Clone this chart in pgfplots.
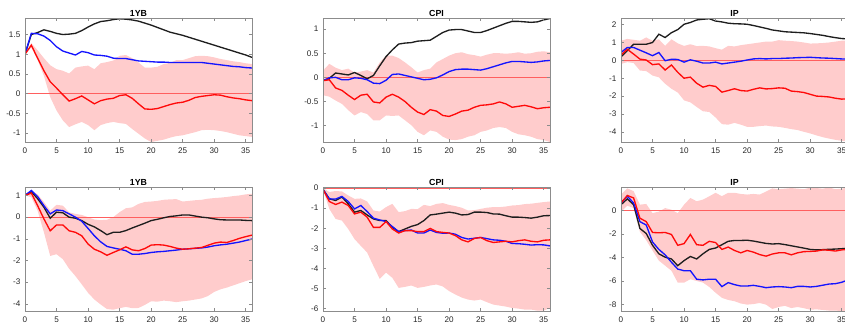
\documentclass[border=0pt]{standalone}
\usepackage{pgfplots}
\pgfplotsset{compat=1.18}
\usepackage{pgfplotstable}
\usepgfplotslibrary{fillbetween}
\usepackage{fontspec}
\setmainfont{Liberation Sans}
\definecolor{bandc}{RGB}{255,204,204}
\definecolor{zeroc}{RGB}{255,95,95}
\definecolor{blkc}{RGB}{30,30,30}
\definecolor{bluc}{RGB}{20,20,255}
\definecolor{redc}{RGB}{255,10,10}

\pgfplotstableread{
x lo hi k b r
0 1.00 1.00 1.00 1.00 1.00
1 1.17 1.28 1.50 1.53 1.23
2 0.85 1.10 1.55 1.52 0.90
3 0.45 0.90 1.62 1.46 0.58
4 -0.09 0.72 1.58 1.35 0.30
5 -0.43 0.62 1.53 1.19 0.14
6 -0.68 0.58 1.50 1.08 -0.03
7 -0.85 0.51 1.51 1.03 -0.19
8 -0.78 0.66 1.53 0.98 -0.13
9 -0.72 0.69 1.60 1.07 -0.06
10 -0.80 0.71 1.69 1.04 -0.16
11 -0.93 0.62 1.77 0.98 -0.26
12 -0.80 0.77 1.83 0.97 -0.18
13 -0.75 0.80 1.85 0.95 -0.14
14 -0.72 0.84 1.88 0.90 -0.12
15 -0.75 0.96 1.90 0.89 -0.05
16 -0.77 0.98 1.89 0.89 -0.03
17 -0.90 0.90 1.87 0.86 -0.12
18 -1.02 0.79 1.84 0.83 -0.26
19 -1.14 0.66 1.79 0.82 -0.39
20 -1.23 0.66 1.74 0.81 -0.40
21 -1.20 0.68 1.68 0.80 -0.38
22 -1.17 0.75 1.62 0.80 -0.33
23 -1.12 0.78 1.56 0.79 -0.28
24 -1.08 0.85 1.52 0.79 -0.24
25 -1.06 0.85 1.48 0.79 -0.22
26 -1.02 0.90 1.43 0.79 -0.17
27 -0.98 0.95 1.38 0.79 -0.10
28 -0.93 0.96 1.33 0.79 -0.07
29 -0.92 0.95 1.28 0.77 -0.05
30 -0.93 0.92 1.23 0.75 -0.03
31 -0.95 0.88 1.18 0.73 -0.04
32 -0.98 0.85 1.13 0.71 -0.08
33 -1.02 0.82 1.08 0.69 -0.11
34 -1.06 0.80 1.03 0.68 -0.13
35 -1.08 0.77 0.98 0.66 -0.16
36 -1.10 0.75 0.92 0.65 -0.18
}\tA

\pgfplotstableread{
x lo hi k b r
0 -0.37 0.14 -0.07 -0.07 -0.07
1 -0.40 0.28 -0.02 -0.01 -0.05
2 -0.48 0.20 0.09 0.00 -0.22
3 -0.55 0.15 0.07 -0.05 -0.27
4 -0.68 0.18 0.05 -0.05 -0.37
5 -0.79 0.10 0.10 -0.01 -0.46
6 -0.72 0.12 0.04 -0.02 -0.37
7 -0.76 0.15 -0.03 -0.05 -0.35
8 -0.89 0.10 0.04 -0.12 -0.51
9 -0.89 0.31 0.24 -0.13 -0.53
10 -0.79 0.45 0.43 -0.06 -0.41
11 -0.80 0.45 0.57 0.06 -0.35
12 -0.79 0.40 0.69 0.07 -0.41
13 -0.89 0.31 0.71 0.04 -0.50
14 -0.99 0.21 0.72 0.01 -0.62
15 -1.13 0.10 0.75 -0.02 -0.72
16 -1.20 0.15 0.76 -0.05 -0.77
17 -1.10 0.18 0.77 -0.04 -0.67
18 -1.13 0.31 0.85 -0.01 -0.70
19 -1.23 0.38 0.93 0.05 -0.79
20 -1.29 0.45 0.98 0.12 -0.81
21 -1.30 0.50 0.99 0.16 -0.76
22 -1.28 0.52 0.99 0.17 -0.70
23 -1.23 0.48 0.96 0.17 -0.68
24 -1.20 0.46 0.93 0.16 -0.62
25 -1.13 0.43 0.93 0.15 -0.58
26 -1.10 0.47 0.97 0.18 -0.57
27 -1.05 0.50 1.02 0.22 -0.55
28 -1.03 0.50 1.07 0.26 -0.51
29 -1.05 0.49 1.12 0.30 -0.55
30 -1.13 0.50 1.16 0.33 -0.62
31 -1.18 0.52 1.16 0.33 -0.60
32 -1.20 0.49 1.15 0.32 -0.58
33 -1.23 0.50 1.14 0.31 -0.61
34 -1.28 0.53 1.15 0.32 -0.65
35 -1.30 0.54 1.19 0.34 -0.63
36 -1.34 0.52 1.22 0.35 -0.62
}\tB

\pgfplotstableread{
x lo hi k b r
0 -0.20 1.10 0.20 0.44 0.30
1 -0.10 1.20 0.54 0.72 0.62
2 -0.15 1.15 0.90 0.72 0.35
3 -0.57 1.10 0.90 0.57 0.07
4 -0.60 1.28 0.90 0.42 0.02
5 -0.85 1.10 1.00 0.26 -0.24
6 -0.95 1.18 1.46 0.44 -0.20
7 -1.31 0.81 1.28 -0.02 -0.54
8 -1.59 1.18 1.55 0.06 -0.26
9 -1.80 0.95 1.72 0.05 -0.67
10 -2.24 0.81 2.02 -0.10 -1.00
11 -2.35 0.90 2.12 0.03 -0.94
12 -2.61 0.80 2.26 -0.05 -1.28
13 -2.85 0.81 2.30 -0.15 -1.50
14 -2.89 0.78 2.33 -0.15 -1.40
15 -3.20 0.68 2.20 -0.10 -1.46
16 -3.57 0.60 2.15 -0.20 -1.78
17 -3.60 0.81 2.08 -0.15 -1.69
18 -3.50 0.78 2.05 -0.10 -1.59
19 -3.60 0.85 2.04 -0.05 -1.69
20 -3.72 0.90 2.02 0.02 -1.72
21 -3.72 0.95 1.95 0.08 -1.62
22 -3.68 1.00 1.87 0.10 -1.54
23 -3.65 1.05 1.79 0.08 -1.60
24 -3.70 1.05 1.70 0.10 -1.58
25 -3.72 1.13 1.65 0.10 -1.54
26 -3.78 1.10 1.60 0.12 -1.56
27 -3.85 1.08 1.58 0.13 -1.72
28 -3.90 1.05 1.56 0.15 -1.75
29 -4.00 1.00 1.54 0.16 -1.80
30 -4.09 0.94 1.50 0.17 -1.90
31 -4.20 0.95 1.45 0.15 -2.00
32 -4.30 0.97 1.40 0.13 -2.02
33 -4.38 1.00 1.33 0.12 -2.05
34 -4.45 1.05 1.27 0.10 -2.12
35 -4.50 1.10 1.22 0.08 -2.17
36 -4.55 1.10 1.20 0.07 -2.15
}\tC

\pgfplotstableread{
x lo hi k b r
0 1.00 1.00 1.00 1.00 1.00
1 0.92 1.23 1.18 1.23 1.11
2 0.30 1.05 0.85 0.95 0.53
3 -0.70 0.70 0.46 0.53 -0.08
4 -1.79 0.30 -0.05 0.15 -0.63
5 -1.71 0.57 0.23 0.33 -0.36
6 -1.94 0.53 0.20 0.30 -0.36
7 -2.38 0.22 0.00 0.15 -0.63
8 -2.72 0.15 -0.05 0.00 -0.70
9 -3.10 0.10 -0.16 -0.19 -0.86
10 -3.49 0.00 -0.33 -0.52 -1.24
11 -3.80 -0.11 -0.45 -0.86 -1.48
12 -4.03 -0.14 -0.62 -1.14 -1.60
13 -4.24 -0.12 -0.81 -1.35 -1.76
14 -4.27 0.00 -0.70 -1.42 -1.63
15 -4.20 0.23 -0.70 -1.48 -1.51
16 -4.14 0.41 -0.62 -1.55 -1.37
17 -4.20 0.45 -0.50 -1.71 -1.51
18 -4.19 0.61 -0.39 -1.71 -1.55
19 -4.05 0.70 -0.28 -1.68 -1.45
20 -3.88 0.72 -0.16 -1.63 -1.29
21 -3.90 0.75 -0.10 -1.60 -1.27
22 -3.85 0.80 -0.03 -1.58 -1.29
23 -3.88 0.82 0.03 -1.55 -1.35
24 -3.92 0.83 0.06 -1.52 -1.43
25 -3.88 0.72 0.10 -1.48 -1.48
26 -3.85 0.75 0.10 -1.46 -1.46
27 -3.80 0.78 0.05 -1.44 -1.43
28 -3.75 0.80 0.00 -1.42 -1.40
29 -3.64 0.85 -0.03 -1.38 -1.30
30 -3.45 0.88 -0.08 -1.32 -1.20
31 -3.33 0.90 -0.12 -1.28 -1.15
32 -3.25 0.93 -0.13 -1.25 -1.17
33 -3.15 0.97 -0.13 -1.20 -1.08
34 -3.05 1.00 -0.13 -1.15 -0.98
35 -2.95 1.05 -0.15 -1.08 -0.90
36 -2.87 1.08 -0.16 -1.01 -0.83
}\tD

\pgfplotstableread{
x lo hi k b r
0 -0.07 0.00 -0.07 -0.07 -0.07
1 -1.04 -0.20 -0.54 -0.54 -0.67
2 -1.54 -0.15 -0.62 -0.55 -0.82
3 -1.62 -0.17 -0.45 -0.42 -0.70
4 -2.04 -0.37 -0.79 -0.67 -0.87
5 -2.54 -0.54 -1.20 -1.04 -1.29
6 -2.88 -0.52 -1.12 -0.87 -1.20
7 -3.21 -0.67 -1.34 -1.17 -1.45
8 -3.88 -1.12 -1.54 -1.50 -1.96
9 -4.52 -1.17 -1.62 -1.59 -1.96
10 -4.21 -0.95 -1.62 -1.67 -1.67
11 -4.47 -0.79 -1.96 -1.92 -2.04
12 -4.97 -1.20 -2.17 -2.17 -2.24
13 -4.92 -1.15 -2.04 -2.12 -2.12
14 -4.85 -1.04 -1.91 -2.09 -2.12
15 -4.97 -1.05 -1.82 -2.24 -2.17
16 -4.92 -0.84 -1.62 -2.24 -2.17
17 -4.85 -0.90 -1.34 -2.09 -2.01
18 -4.80 -0.79 -1.30 -2.21 -2.17
19 -4.90 -0.75 -1.25 -2.25 -2.21
20 -5.13 -0.84 -1.20 -2.24 -2.24
21 -5.30 -0.90 -1.25 -2.30 -2.37
22 -5.45 -0.98 -1.34 -2.46 -2.58
23 -5.55 -1.12 -1.32 -2.54 -2.68
24 -5.60 -1.10 -1.20 -2.50 -2.51
25 -5.55 -1.04 -1.20 -2.46 -2.46
26 -5.68 -0.98 -1.22 -2.52 -2.62
27 -5.80 -0.95 -1.29 -2.58 -2.71
28 -5.85 -0.95 -1.30 -2.60 -2.68
29 -5.90 -0.92 -1.38 -2.65 -2.65
30 -5.97 -0.87 -1.45 -2.76 -2.68
31 -6.00 -0.85 -1.45 -2.77 -2.62
32 -6.05 -0.80 -1.47 -2.80 -2.58
33 -6.05 -0.78 -1.50 -2.84 -2.65
34 -6.10 -0.74 -1.45 -2.82 -2.68
35 -6.10 -0.70 -1.38 -2.83 -2.60
36 -5.97 -0.67 -1.37 -2.88 -2.58
}\tE

\pgfplotstableread{
x lo hi k b r
0 -0.10 1.35 0.49 0.63 0.63
1 0.40 1.87 0.98 1.21 1.27
2 0.20 1.64 0.49 0.63 1.06
3 -1.81 0.49 -1.53 -0.95 -0.66
4 -2.53 0.55 -1.96 -1.24 -0.95
5 -3.40 -0.23 -2.96 -2.68 -1.87
6 -4.26 -0.10 -3.68 -3.31 -1.90
7 -4.69 0.20 -3.97 -3.77 -1.87
8 -5.12 0.06 -4.12 -4.40 -2.04
9 -6.13 -0.23 -4.69 -4.98 -2.96
10 -6.13 0.49 -4.26 -5.12 -2.82
11 -5.84 1.06 -3.91 -5.12 -2.04
12 -5.99 0.78 -4.12 -5.84 -2.91
13 -6.13 0.92 -3.68 -5.90 -2.96
14 -6.50 1.20 -3.31 -5.84 -2.62
15 -6.99 1.50 -3.19 -5.84 -2.73
16 -7.42 1.21 -2.91 -6.47 -3.31
17 -7.60 1.50 -2.62 -6.13 -3.11
18 -7.71 1.50 -2.55 -6.30 -3.40
19 -7.90 1.40 -2.55 -6.42 -3.60
20 -8.00 1.35 -2.53 -6.42 -3.40
21 -7.95 1.40 -2.60 -6.36 -3.54
22 -7.86 1.35 -2.70 -6.45 -3.75
23 -8.00 1.60 -2.80 -6.56 -3.88
24 -8.37 1.87 -2.85 -6.50 -3.70
25 -8.20 1.80 -2.82 -6.47 -3.60
26 -8.10 1.85 -2.90 -6.50 -3.60
27 -8.29 1.90 -3.00 -6.56 -3.77
28 -8.20 1.85 -3.10 -6.45 -3.60
29 -8.30 1.80 -3.20 -6.45 -3.50
30 -8.43 1.93 -3.31 -6.50 -3.48
31 -8.40 1.90 -3.35 -6.45 -3.45
32 -8.45 1.85 -3.33 -6.35 -3.35
33 -8.50 1.95 -3.30 -6.25 -3.38
34 -8.50 1.80 -3.28 -6.22 -3.45
35 -8.55 1.85 -3.25 -6.10 -3.35
36 -8.50 1.95 -3.20 -5.90 -3.30
}\tF

\pgfplotsset{
  irf/.style={
    scale only axis, width=170.25pt, height=93pt,
    anchor=south west,
    xmin=0, xmax=36, xtick={0,5,...,35},
    tick align=inside, major tick length=2.5pt,
    axis line style={black!45, line width=0.4pt},
    tick style={black!45, line width=0.4pt},
    ticklabel style={font=\fontsize{6.1}{7}\selectfont, text=black!85},
    xticklabel style={yshift=-1pt},
    every axis title shift=0pt,
    title style={font=\bfseries\fontsize{6.6}{7.5}\selectfont, at={(0.5,1)}, anchor=south, yshift=0pt, inner sep=1.2pt},
    /pgf/number format/assume math mode=true,
    axis on top,
    clip=true,
  },
}

\newcommand{\irfplots}[1]{%
  \addplot[name path=hi, draw=none, forget plot] table[x=x,y=hi]{#1};
  \addplot[name path=lo, draw=none, forget plot] table[x=x,y=lo]{#1};
  \addplot[bandc, draw=none] fill between[of=hi and lo];
  \addplot[zeroc, line width=0.9pt] coordinates {(0,0) (36,0)};
  \addplot[blkc, line width=1pt] table[x=x,y=k]{#1};
  \addplot[bluc, line width=1pt] table[x=x,y=b]{#1};
  \addplot[redc, line width=1pt] table[x=x,y=r]{#1};
}

\begin{document}
\begin{tikzpicture}
\begin{axis}[irf, at={(18.75pt,138pt)}, title={1YB}, ymin=-1.23, ymax=1.92, ytick={-1,-0.5,0,0.5,1,1.5}]
\irfplots{\tA}
\end{axis}
\begin{axis}[irf, at={(242.25pt,138pt)}, title={CPI}, ymin=-1.34, ymax=1.23, ytick={-1,-0.5,0,0.5,1}]
\irfplots{\tB}
\end{axis}
\begin{axis}[irf, at={(465.75pt,138pt)}, title={IP}, ymin=-4.57, ymax=2.37, ytick={-4,-3,-2,-1,0,1,2}]
\irfplots{\tC}
\end{axis}
\begin{axis}[irf, at={(18.75pt,11.25pt)}, title={1YB}, ymin=-4.33, ymax=1.39, ytick={-4,-3,-2,-1,0,1}]
\irfplots{\tD}
\end{axis}
\begin{axis}[irf, at={(242.25pt,11.25pt)}, title={CPI}, ymin=-6.12, ymax=0.05, ytick={-6,-5,-4,-3,-2,-1,0}]
\irfplots{\tE}
\end{axis}
\begin{axis}[irf, at={(465.75pt,11.25pt)}, title={IP}, ymin=-8.54, ymax=1.99, ytick={-8,-6,-4,-2,0}]
\irfplots{\tF}
\end{axis}
\pgfresetboundingbox
\useasboundingbox (0pt,0pt) rectangle (633.75pt,244.5pt);
\end{tikzpicture}
\end{document}
